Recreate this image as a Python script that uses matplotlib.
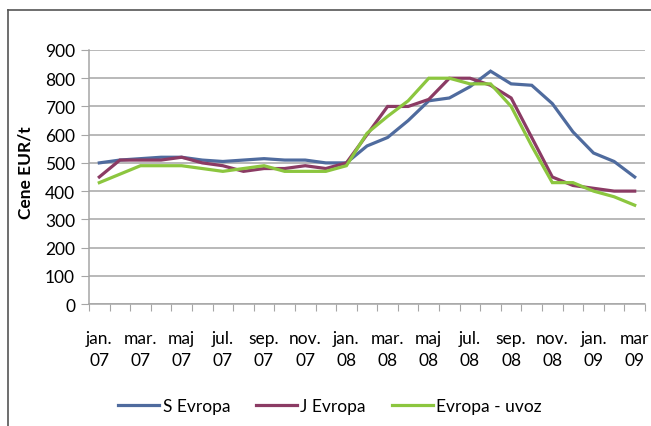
import matplotlib.pyplot as plt
from matplotlib.lines import Line2D

plt.rcParams['font.family'] = ['Lato', 'DejaVu Sans']

# monthly prices, jan 07 .. mar 09 (27 months)
months = ["jan.\n07", "", "mar.\n07", "", "maj\n07", "", "jul.\n07", "", "sep.\n07", "",
          "nov.\n07", "", "jan.\n08", "", "mar.\n08", "", "maj\n08", "", "jul.\n08", "",
          "sep.\n08", "", "nov.\n08", "", "jan.\n09", "", "mar\n09"]

s_evropa = [500, 510, 515, 520, 520, 510, 505, 510, 515, 510, 510, 500, 500,
            560, 590, 650, 720, 730, 770, 825, 780, 775, 710, 610, 535, 505, 450]
j_evropa = [450, 510, 510, 510, 520, 500, 490, 470, 480, 480, 490, 480, 500,
            600, 700, 700, 725, 800, 800, 775, 730, 590, 450, 420, 410, 400, 400]
evropa_uvoz = [430, 460, 490, 490, 490, 480, 470, 480, 490, 470, 470, 470, 490,
               605, 665, 720, 800, 800, 780, 780, 700, 560, 430, 430, 400, 380, 350]

series = [("S Evropa", s_evropa, "#4F6B9E"),
          ("J Evropa", j_evropa, "#8B3B64"),
          ("Evropa - uvoz", evropa_uvoz, "#8CC63F")]

fig = plt.figure(figsize=(6.51, 4.27), dpi=100)
ax = fig.add_axes([89 / 651, 1 - 305 / 427, 556 / 651, 254 / 427])

x = [i + 0.5 for i in range(len(months))]
for name, vals, col in series:
    ax.plot(x, vals, color=col, linewidth=2.3, label=name, solid_joinstyle="miter")

ax.set_xlim(0, len(months))
ax.set_ylim(0, 900)
ax.set_yticks(range(0, 901, 100))
ax.yaxis.grid(True, color="#A6A6A6", linewidth=1.1)
ax.set_axisbelow(True)

ax.set_xticks(range(len(months) + 1))
ax.set_xticklabels([])
ax.set_xticks(x, minor=True)
ax.set_xticklabels(months, minor=True, fontsize=12.5, linespacing=1.4)
ax.tick_params(axis="x", which="minor", length=0, pad=19)
ax.tick_params(axis="x", which="major", length=5, color="#A6A6A6", direction="out")
ax.tick_params(axis="y", length=6, color="#A6A6A6", labelsize=12.5, pad=4)

for s in ["top", "right"]:
    ax.spines[s].set_visible(False)
ax.spines["left"].set_color("#A6A6A6")
ax.spines["bottom"].set_color("#A6A6A6")
ax.spines["left"].set_linewidth(1.1)
ax.spines["bottom"].set_linewidth(1.1)

ax.set_ylabel("Cene EUR/t", fontsize=12.5, fontweight="bold")
ax.yaxis.set_label_coords(-0.1, 0.52)

fig.legend(loc="center", bbox_to_anchor=(330 / 651, 1 - 407 / 427), ncol=3,
           frameon=False, fontsize=12.5, handlelength=2.35, handletextpad=0.2,
           columnspacing=1.5)

# chart border (only top and left visible in the crop)
fig.add_artist(Line2D([8 / 651, 8 / 651], [0, 1 - 11 / 427], color="#555555", linewidth=1.2))
fig.add_artist(Line2D([8 / 651, 1], [1 - 11 / 427, 1 - 11 / 427], color="#555555", linewidth=1.2))

fig.savefig("out.png", dpi=100)
